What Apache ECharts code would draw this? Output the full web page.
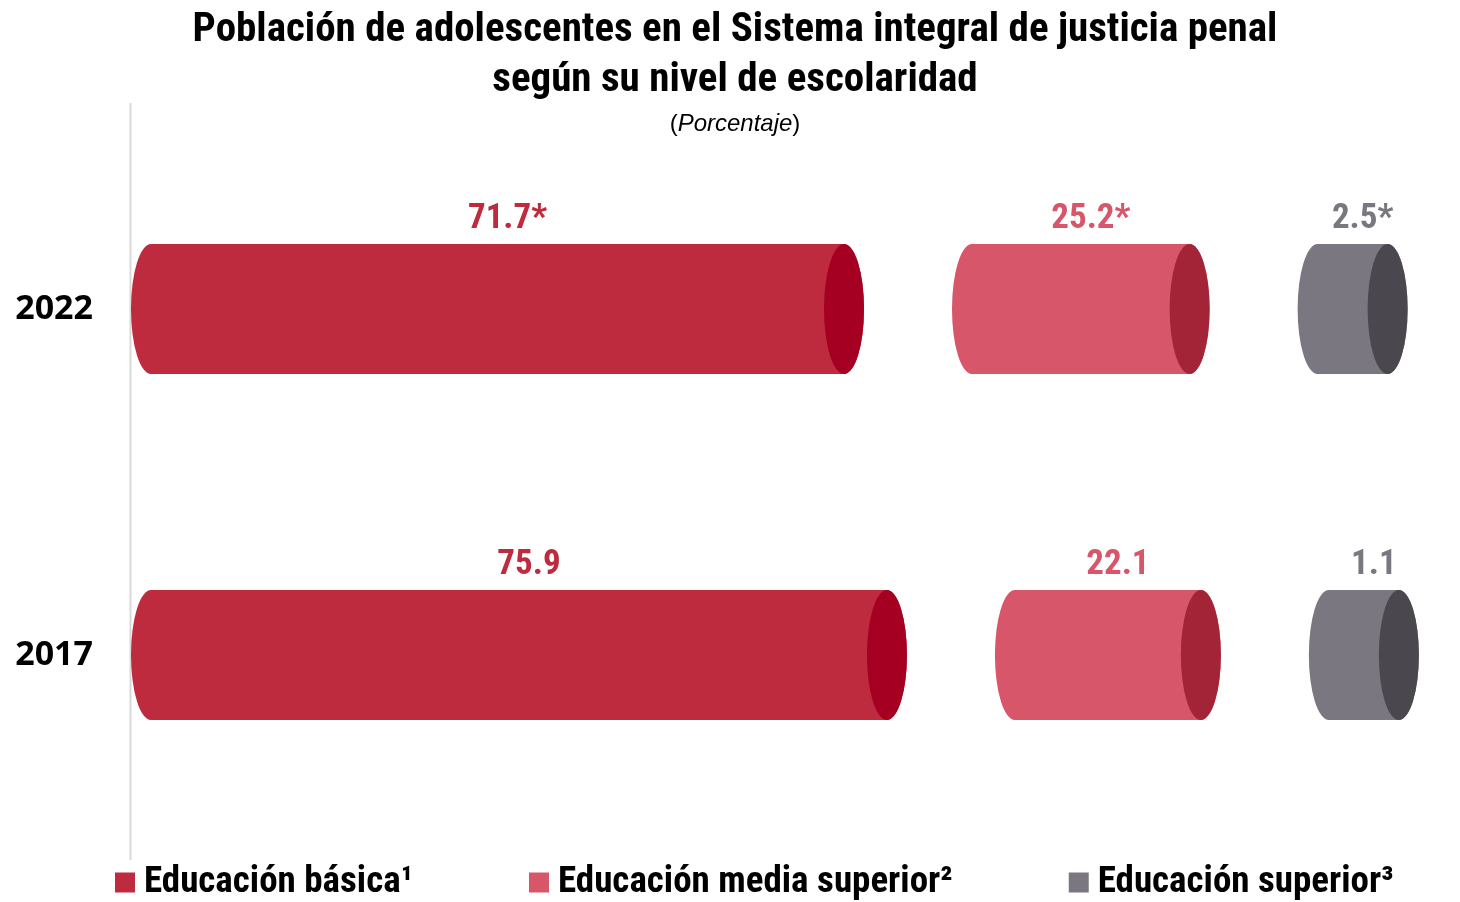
<!DOCTYPE html>
<html>
<head>
<meta charset="utf-8">
<style>
  html, body { margin: 0; padding: 0; background: #fff; }
  #chart { width: 1460px; height: 902px; }
</style>
<script src="https://cdn.jsdelivr.net/npm/echarts@6/dist/echarts.min.js"></script>
</head>
<body>
<div id="chart"></div>
<script>
// Población de adolescentes por nivel de escolaridad (porcentaje)
var years = ["2017", "2022"];
var basica = [75.9, 71.7];
var mediaSuperior = [22.1, 25.2];
var superior = [1.1, 2.5];
var marks = ["", "*"]; // diferencia significativa

var levels = [
  { name: "Educación básica¹", values: basica, body: "#BE2B3E", cap: "#A50021" },
  { name: "Educación media superior²", values: mediaSuperior, body: "#D8566A", cap: "#A32437" },
  { name: "Educación superior³", values: superior, body: "#7A7780", cap: "#4A474F" }
];

var narrow = '"Liberation Sans Narrow", "Arial Narrow", "Roboto Condensed", "DejaVu Sans Condensed", sans-serif';

var chart = echarts.init(document.getElementById("chart"));

var GAP = 88;       // espacio entre cilindros
var MIN_LEN = 110;  // largo mínimo de un cilindro
var RX = 20;        // radio de la tapa

function segLength(api, v) {
  return Math.max(api.size([v, 0])[0], MIN_LEN);
}

function makeRender(levelIdx) {
  return function (params, api) {
    var row = api.value(0);
    var origin = api.coord([0, row]);
    var x0 = origin[0];
    for (var k = 0; k < levelIdx; k++) {
      x0 += segLength(api, levels[k].values[row]) + GAP;
    }
    var v = levels[levelIdx].values[row];
    var len = segLength(api, v);
    var x1 = x0 + len;
    var h = api.size([0, 1])[1] * 0.376;
    var ry = h / 2;
    var cy = origin[1];
    var top = cy - ry, bot = cy + ry;
    var body = "M" + (x0 + RX) + "," + top + " L" + (x1 - RX) + "," + top +
      " A" + RX + " " + ry + " 0 0 1 " + (x1 - RX) + "," + bot +
      " L" + (x0 + RX) + "," + bot +
      " A" + RX + " " + ry + " 0 0 1 " + (x0 + RX) + "," + top + " Z";
    var cx = x1 - RX;
    var cap = "M" + cx + "," + top +
      " A" + RX + " " + ry + " 0 1 1 " + cx + "," + bot +
      " A" + RX + " " + ry + " 0 1 1 " + cx + "," + top + " Z";
    return {
      type: "group",
      children: [
        { type: "path", shape: { pathData: body }, style: { fill: levels[levelIdx].body } },
        { type: "path", shape: { pathData: cap }, style: { fill: levels[levelIdx].cap } },
        {
          type: "text",
          style: {
            x: (x0 + x1) / 2 + 10, y: top - 25,
            text: v.toFixed(1) + marks[row],
            fill: levels[levelIdx].body,
            font: "bold 35px " + narrow,
            align: "center", verticalAlign: "middle"
          }
        }
      ]
    };
  };
}

var series = levels.map(function (lv, i) {
  return {
    name: lv.name,
    type: "custom",
    renderItem: makeRender(i),
    itemStyle: { color: lv.body },
    clip: false,
    encode: { x: 1, y: 0 },
    data: years.map(function (y, r) { return [r, lv.values[r]]; })
  };
});

chart.setOption({
  animation: false,
  title: {
    text: "Población de adolescentes en el Sistema integral de justicia penal\nsegún su nivel de escolaridad",
    subtext: "({i|Porcentaje})",
    left: 730, top: 1, textAlign: "center",
    itemGap: 6,
    textStyle: { fontFamily: narrow, fontWeight: "bold", fontSize: 41, lineHeight: 50, color: "#000" },
    subtextStyle: {
      fontFamily: "'Liberation Sans', Arial, sans-serif", fontSize: 24, color: "#000",
      rich: { i: { fontFamily: "'Liberation Sans', Arial, sans-serif", fontSize: 24, fontStyle: "italic", color: "#000" } }
    }
  },
  legend: {
    bottom: -4, left: 110,
    itemWidth: 20, itemHeight: 20, itemGap: 116,
    icon: "rect",
    textStyle: { fontFamily: narrow, fontWeight: "bold", fontSize: 37, color: "#000", padding: [0, 0, 0, 4] },
    data: levels.map(function (lv) { return lv.name; })
  },
  grid: { left: 131, right: 0, top: 136, height: 692 },
  xAxis: { type: "value", min: 0, max: 130, show: false },
  yAxis: {
    type: "category",
    data: years,
    axisLine: { show: false },
    axisTick: { show: false },
    axisLabel: { fontFamily: "'Open Sans', 'DejaVu Sans', sans-serif", fontWeight: "bold", fontSize: 34, color: "#000", margin: 38 }
  },
  graphic: [{
    type: "line",
    shape: { x1: 130.5, y1: 103, x2: 130.5, y2: 860 },
    style: { stroke: "#D9D9D9", lineWidth: 2 }
  }],
  series: series
});
</script>
</body>
</html>
